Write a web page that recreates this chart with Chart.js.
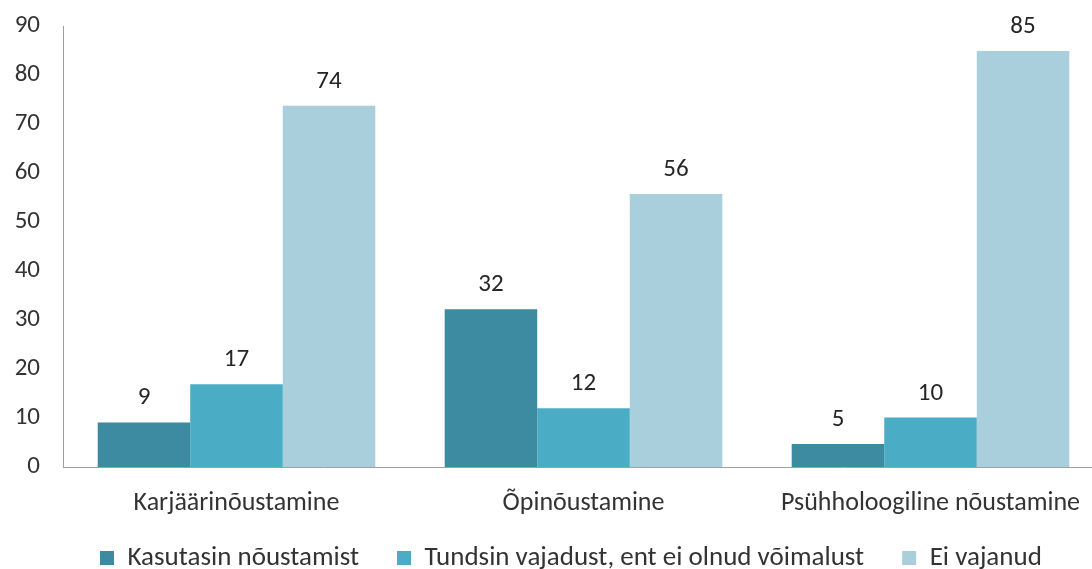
<!DOCTYPE html>
<html>
<head>
<meta charset="utf-8">
<script src="https://cdn.jsdelivr.net/npm/chart.js@4/dist/chart.umd.min.js"></script>
<style>
html,body{margin:0;padding:0;overflow:hidden;background:#fff;}
#wrap{position:absolute;left:0;top:0;width:1110px;height:602px;}
</style>
</head>
<body>
<div id="wrap"><canvas id="c" width="1110" height="602" style="width:1110px;height:602px"></canvas></div>
<script>
const categories = ['Karjäärinõustamine', 'Õpinõustamine', 'Psühholoogiline nõustamine'];
const seriesNames = ['Kasutasin nõustamist', 'Tundsin vajadust, ent ei olnud võimalust', 'Ei vajanud'];
const kasutasin = [9.1, 32.2, 4.7];
const tundsin = [16.9, 12.0, 10.1];
const eiVajanud = [73.7, 55.7, 84.9];
const yTicks = [0, 10, 20, 30, 40, 50, 60, 70, 80, 90];

const colors = ['#3D8BA1', '#4BACC6', '#A9CEDC'];
const FONT = 'Carlito, "Liberation Sans", sans-serif';
const TEXT = '#333333';

const dataLabels = {
  id: 'dataLabels',
  afterDatasetsDraw(chart) {
    const ctx = chart.ctx;
    ctx.save();
    ctx.font = '25px ' + FONT;
    ctx.fillStyle = '#262626';
    ctx.textAlign = 'center';
    ctx.textBaseline = 'alphabetic';
    chart.data.datasets.forEach((ds, di) => {
      const meta = chart.getDatasetMeta(di);
      meta.data.forEach((bar, i) => {
        ctx.fillText(String(Math.round(ds.data[i])), bar.x, bar.y - 18);
      });
    });
    ctx.restore();
  }
};

const legendShift = {
  id: 'legendShift',
  afterLayout(chart) {
    const lg = chart.legend;
    if (!lg) return;
    const pad = lg.options.labels.padding;
    const dx = 100 - (lg.left + pad);
    lg.left += dx; lg.right += dx;
    const h = lg.bottom - lg.top;
    const top = 558 - pad - 13.5;
    lg.top = top; lg.bottom = top + h;
  }
};

new Chart(document.getElementById('c'), {
  type: 'bar',
  data: {
    labels: categories,
    datasets: [
      { label: seriesNames[0], data: kasutasin, backgroundColor: colors[0] },
      { label: seriesNames[1], data: tundsin, backgroundColor: colors[1] },
      { label: seriesNames[2], data: eiVajanud, backgroundColor: colors[2] }
    ]
  },
  options: {
    responsive: false,
    animation: false,
    layout: { padding: { top: 26, right: 6, left: 0, bottom: 0 } },
    datasets: { bar: { categoryPercentage: 0.8, barPercentage: 1.0, borderWidth: 0 } },
    plugins: {
      tooltip: { enabled: false },
      legend: {
        position: 'bottom',
        align: 'start',
        labels: {
          boxWidth: 14, boxHeight: 14, padding: 38,
          color: TEXT,
          font: { family: FONT, size: 27 }
        }
      }
    },
    scales: {
      x: {
        grid: { display: false, drawTicks: false },
        border: { display: true, color: '#A0A0A0', width: 1 },
        ticks: { color: TEXT, font: { family: FONT, size: 26 }, padding: 21, maxRotation: 0, autoSkip: false },
        afterFit(scale) { scale.height = 60; scale.paddingLeft = 0; scale.paddingRight = 0; }
      },
      y: {
        min: 0, max: 90,
        grid: { display: false, drawTicks: false },
        border: { display: true, color: '#A0A0A0', width: 1 },
        afterBuildTicks(scale) { scale.ticks = yTicks.map(v => ({ value: v })); },
        ticks: { color: TEXT, font: { family: FONT, size: 25 }, padding: 23 },
        afterFit(scale) { scale.width = 63; scale.paddingTop = 0; scale.paddingBottom = 0; }
      }
    }
  },
  plugins: [dataLabels, legendShift]
});
</script>
</body>
</html>
